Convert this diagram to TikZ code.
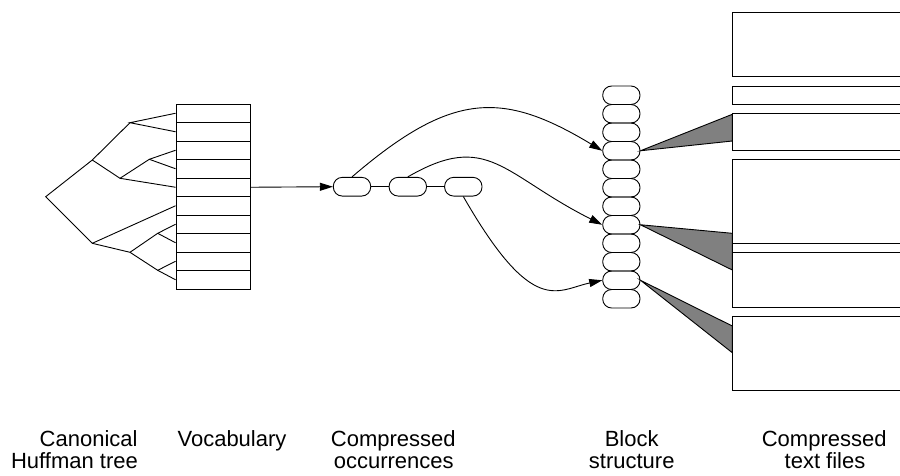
\documentclass[tikz,border=0pt]{standalone}
\usepackage{fontspec}
\setmainfont{Liberation Sans}
\usetikzlibrary{arrows.meta}
\begin{document}
\begin{tikzpicture}[x=1pt,y=-1pt, line width=0.9pt,
  cell/.style={draw, minimum width=74pt, minimum height=18.5pt, inner sep=0pt},
  pill/.style={draw, rounded corners=9pt, minimum width=37.3pt, minimum height=18.5pt, inner sep=0pt},
  arr/.style={-{Triangle[length=13pt,width=8pt]}},
  wedge/.style={draw, fill=gray, line join=miter},
  lbl/.style={font=\fontsize{22}{26}\selectfont, inner sep=0pt}]
\clip (0,0) rectangle (900,475);

% Vocabulary
\foreach \i in {1,...,10}
  \node[cell] (v\i) at (213,{104+(\i-0.5)*18.5}) {};

% Canonical Huffman tree
\coordinate (R) at (45.7,196.7);
\coordinate (A) at (92.3,160);
\coordinate (B) at (92.3,243.3);
\coordinate (A1) at (130,122.7);
\coordinate (A2) at (120,178.3);
\coordinate (A2a) at (149.3,159.3);
\coordinate (B1) at (130,252.3);
\coordinate (B1a) at (157.7,233.3);
\coordinate (B1b) at (157.7,270.3);
\draw (v1.west) -- (A1) -- (v2.west);
\draw (A1) -- (A) -- (R) -- (B) -- (v6.west);
\draw (A) -- (A2) -- (v5.west);
\draw (A2) -- (A2a) -- (v3.west);
\draw (A2a) -- (v4.west);
\draw (B) -- (B1) -- (B1a) -- (v7.west);
\draw (B1a) -- (v8.west);
\draw (B1) -- (B1b) -- (v9.west);
\draw (B1b) -- (v10.west);

% Compressed occurrences
\node[pill, minimum width=37.4pt, minimum height=18.7pt] (o1) at (352,186.7) {};
\node[pill, minimum width=37.4pt, minimum height=18.7pt] (o2) at (407.8,186.7) {};
\node[pill, minimum width=37.4pt, minimum height=18.7pt] (o3) at (463.3,186.7) {};
\draw[arr] (v5.east) -- (o1.west);
\draw (o1.east) -- (o2.west);
\draw (o2.east) -- (o3.west);

% Block structure
\foreach \i in {1,...,12}
  \node[pill] (b\i) at (621.35,{86+(\i-0.5)*18.5}) {};

\draw[arr] (o1.north) .. controls (452,91) and (502.7,90.75) .. (b4.west);
\draw[arr] (o2.north) .. controls (488,130.3) and (502.7,174.75) .. (b8.west);
\draw[arr] (o3.south) .. controls (533,318) and (557,290) .. (b11.west);

% Compressed text files
\draw (732.3,12.3) rectangle (910,76.7);
\draw (732.3,86.3) rectangle (910,104.3);
\draw (732.3,113.7) rectangle (910,150.3);
\draw (732.3,159.7) rectangle (910,307);
\draw (732.3,243) -- (910,243);
\draw (732.3,252.3) -- (910,252.3);
\draw (732.3,316.3) rectangle (910,390);

\filldraw[wedge] (b4.east) -- (732.3,114.3) -- (732.3,141) -- cycle;
\filldraw[wedge] (b8.east) -- (732.3,233.3) -- (732.3,270) -- cycle;
\filldraw[wedge] (b11.east) -- (732.3,326) -- (732.3,352.7) -- cycle;

% Labels
\node[lbl, anchor=base east] (l1) at (138,446.7) {Canonical};
\node[lbl, anchor=base east] (l2) at (138.3,468.3) {Huffman tree};
\node[lbl, anchor=base] (l3) at (232,446.7) {Vocabulary};
\node[lbl, anchor=base] (l4) at (393.3,446.7) {Compressed};
\node[lbl, anchor=base] (l5) at (393.7,468.3) {occurrences};
\node[lbl, anchor=base] (l6) at (631.7,446.7) {Block};
\node[lbl, anchor=base] (l7) at (631.7,468.3) {structure};
\node[lbl, anchor=base] (l8) at (824.2,446.7) {Compressed};
\node[lbl, anchor=base] (l9) at (825,468.3) {text files};
\end{tikzpicture}
\end{document}
